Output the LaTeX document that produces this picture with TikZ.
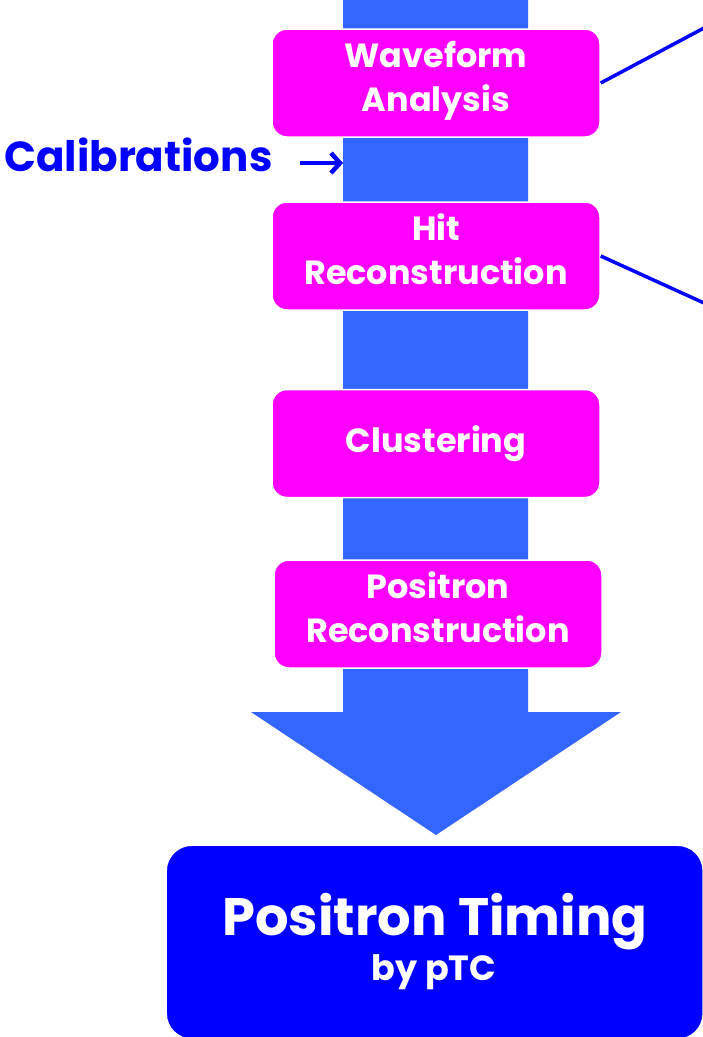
\documentclass[tikz,border=0pt]{standalone}
\usepackage{fontspec}
\setmainfont{Poppins}[Ligatures=NoCommon]
\usetikzlibrary{arrows.meta}
\begin{document}
\begin{tikzpicture}[x=1pt,y=-1pt,
  stepbox/.style={draw=white, line width=1.5pt, fill=boxmag, rounded corners=15pt, minimum width=328pt, minimum height=108pt, inner sep=0pt, text=white, font=\fontsize{33.5}{44}\selectfont\bfseries, align=center, execute at begin node=\strut, execute at end node=\strut},
  link/.style={draw=lineblue, line width=3.5pt}]
\definecolor{boxmag}{HTML}{FF00FF}
\definecolor{shaft}{HTML}{3366FF}
\definecolor{lineblue}{HTML}{0000FF}
\useasboundingbox (0,0) rectangle (703,1037);
% big arrow
\fill[shaft] (343,0) -- (528,0) -- (528,712) -- (621,712) -- (436,835) -- (251,712) -- (343,712) -- cycle;
\node[stepbox] (wa) at (436,83) {Waveform\\Analysis};
\node[stepbox] (hr) at (436,256) {Hit\\Reconstruction};
\node[stepbox] (cl) at (436,443.5) {Clustering};
\node[stepbox] (pr) at (438,614) {Positron\\Reconstruction};
\coordinate (e1) at (704,28);
\coordinate (e2) at (704,303);
\draw[link] (wa.east) -- (e1);
\draw[link] (hr.east) -- (e2);
\node[anchor=base west, inner sep=0pt, text=lineblue, font=\fontsize{42}{44}\selectfont\bfseries] (cal) at (4,171) {Calibrations};
\coordinate (ca) at (300,163);
\coordinate (cb) at (343,163);
\draw[-{Straight Barb[length=9pt,width=20pt]}, draw=lineblue, line width=4.5pt] (ca) -- (cb);
\node[draw=lineblue, fill=lineblue, rounded corners=25pt, minimum width=535pt, minimum height=192pt, anchor=north west, inner sep=0pt] (pt) at (167,846) {};
\node[text=white, font=\fontsize{52.7}{60}\selectfont\bfseries, anchor=base] (ptt) at (435,935) {Positron Timing};
\node[text=white, font=\fontsize{35}{40}\selectfont\bfseries, anchor=base] (ptb) at (434,980) {by pTC};
\end{tikzpicture}
\end{document}
